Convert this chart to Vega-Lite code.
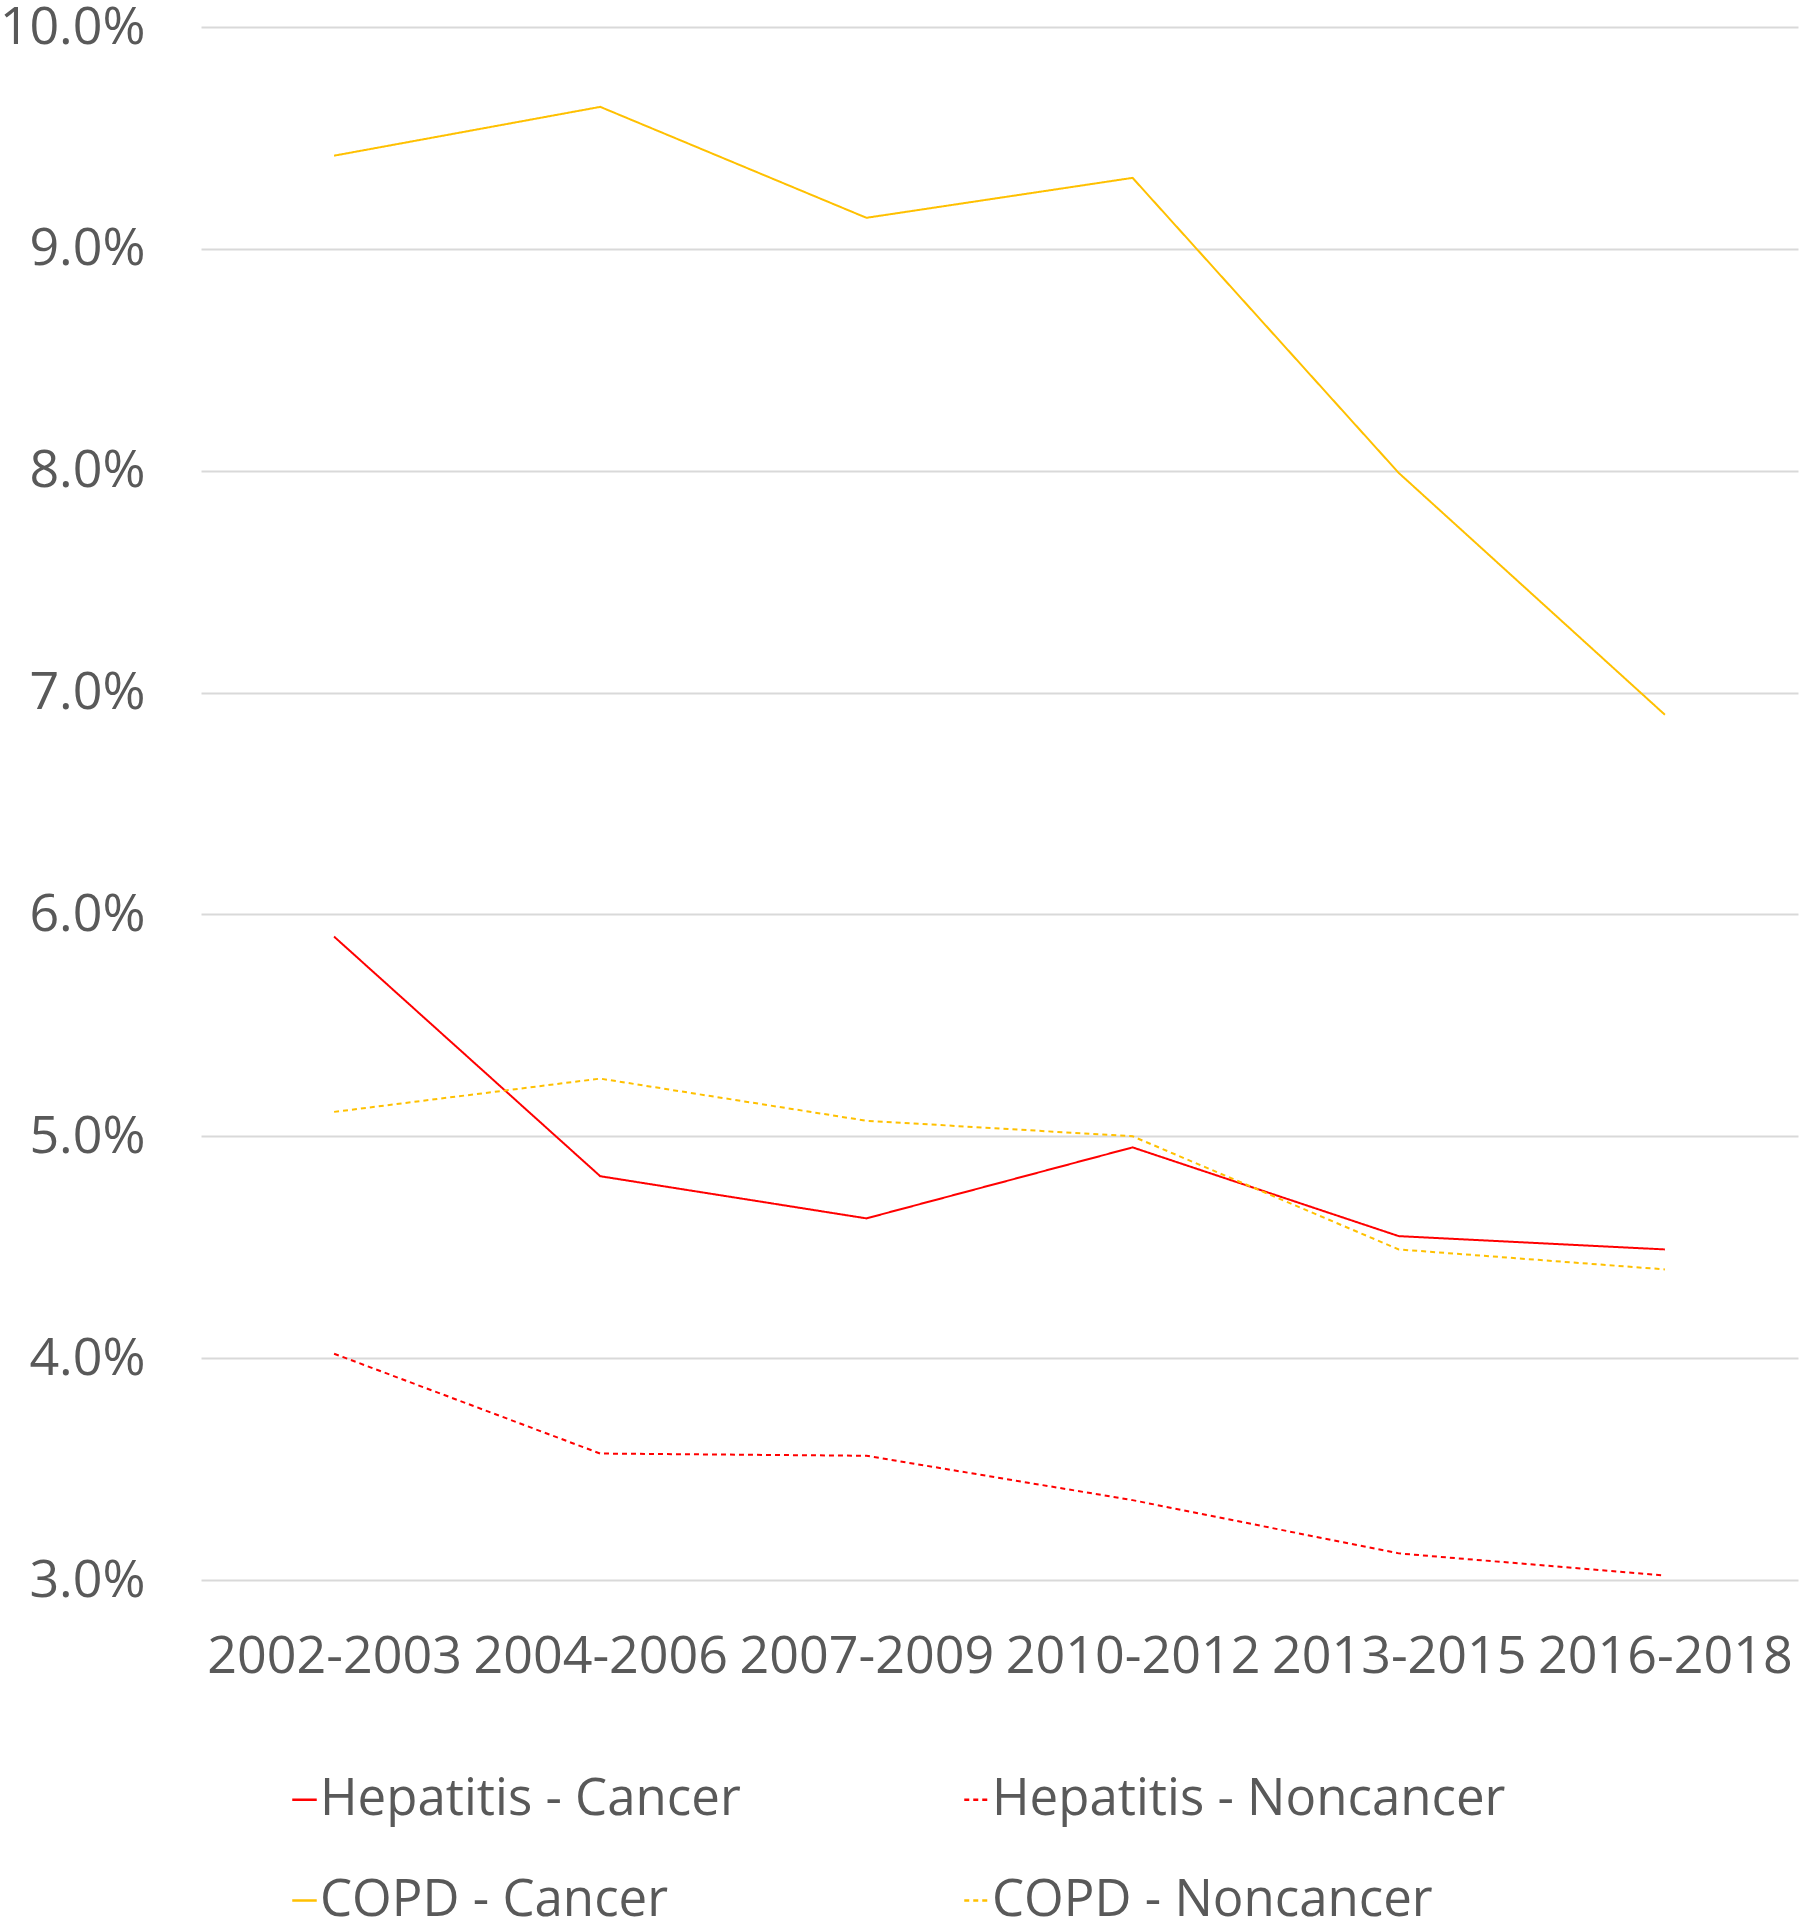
{
  "$schema": "https://vega.github.io/schema/vega-lite/v6.json",
  "width": 1597,
  "height": 1553,
  "autosize": {"type": "none"},
  "padding": {"left": 201, "top": 27, "right": 7, "bottom": 340},
  "background": "white",
  "config": {
    "view": {"stroke": null},
    "font": "Open Sans"
  },
  "data": {
    "values": [
      {"period": "2002-2003", "series": "Hepatitis - Cancer", "rate": 0.0590},
      {"period": "2004-2006", "series": "Hepatitis - Cancer", "rate": 0.0482},
      {"period": "2007-2009", "series": "Hepatitis - Cancer", "rate": 0.0463},
      {"period": "2010-2012", "series": "Hepatitis - Cancer", "rate": 0.0495},
      {"period": "2013-2015", "series": "Hepatitis - Cancer", "rate": 0.0455},
      {"period": "2016-2018", "series": "Hepatitis - Cancer", "rate": 0.0449},
      {"period": "2002-2003", "series": "Hepatitis - Noncancer", "rate": 0.0402},
      {"period": "2004-2006", "series": "Hepatitis - Noncancer", "rate": 0.0357},
      {"period": "2007-2009", "series": "Hepatitis - Noncancer", "rate": 0.0356},
      {"period": "2010-2012", "series": "Hepatitis - Noncancer", "rate": 0.0336},
      {"period": "2013-2015", "series": "Hepatitis - Noncancer", "rate": 0.0312},
      {"period": "2016-2018", "series": "Hepatitis - Noncancer", "rate": 0.0302},
      {"period": "2002-2003", "series": "COPD - Cancer", "rate": 0.0942},
      {"period": "2004-2006", "series": "COPD - Cancer", "rate": 0.0964},
      {"period": "2007-2009", "series": "COPD - Cancer", "rate": 0.0914},
      {"period": "2010-2012", "series": "COPD - Cancer", "rate": 0.0932},
      {"period": "2013-2015", "series": "COPD - Cancer", "rate": 0.0799},
      {"period": "2016-2018", "series": "COPD - Cancer", "rate": 0.0690},
      {"period": "2002-2003", "series": "COPD - Noncancer", "rate": 0.0511},
      {"period": "2004-2006", "series": "COPD - Noncancer", "rate": 0.0526},
      {"period": "2007-2009", "series": "COPD - Noncancer", "rate": 0.0507},
      {"period": "2010-2012", "series": "COPD - Noncancer", "rate": 0.0500},
      {"period": "2013-2015", "series": "COPD - Noncancer", "rate": 0.0449},
      {"period": "2016-2018", "series": "COPD - Noncancer", "rate": 0.0440}
    ]
  },
  "mark": {"type": "line", "strokeWidth": 2},
  "encoding": {
    "x": {
      "field": "period",
      "type": "ordinal",
      "scale": {"type": "point", "padding": 0.5},
      "axis": {
        "title": null,
        "labelAngle": 0,
        "labelFontSize": 52,
        "labelColor": "#595959",
        "labelPadding": 51,
        "labelLimit": 0,
        "labelOverlap": false,
        "ticks": false,
        "domain": false,
        "grid": false
      }
    },
    "y": {
      "field": "rate",
      "type": "quantitative",
      "scale": {"domain": [0.03, 0.10], "nice": false, "zero": false},
      "axis": {
        "title": null,
        "values": [0.03, 0.04, 0.05, 0.06, 0.07, 0.08, 0.09, 0.10],
        "format": ".1%",
        "labelFontSize": 52,
        "labelColor": "#595959",
        "labelPadding": 56,
        "ticks": false,
        "domain": false,
        "grid": true,
        "gridColor": "#D9D9D9",
        "gridWidth": 2
      }
    },
    "color": {
      "field": "series",
      "type": "nominal",
      "scale": {
        "domain": ["Hepatitis - Cancer", "Hepatitis - Noncancer", "COPD - Cancer", "COPD - Noncancer"],
        "range": ["#FF0000", "#FF0000", "#FFC000", "#FFC000"]
      },
      "legend": {
        "title": null,
        "orient": "none",
        "legendX": 78,
        "legendY": 1747,
        "direction": "horizontal",
        "columns": 2,
        "columnPadding": 210,
        "rowPadding": 49,
        "symbolType": "stroke",
        "symbolSize": 600,
        "symbolStrokeWidth": 2.5,
        "labelFontSize": 51,
        "labelColor": "#595959",
        "labelOffset": -10,
        "labelLimit": 800
      }
    },
    "strokeDash": {
      "field": "series",
      "type": "nominal",
      "scale": {
        "domain": ["Hepatitis - Cancer", "Hepatitis - Noncancer", "COPD - Cancer", "COPD - Noncancer"],
        "range": [[1, 0], [5, 4], [1, 0], [5, 4]]
      },
      "legend": null
    }
  }
}
